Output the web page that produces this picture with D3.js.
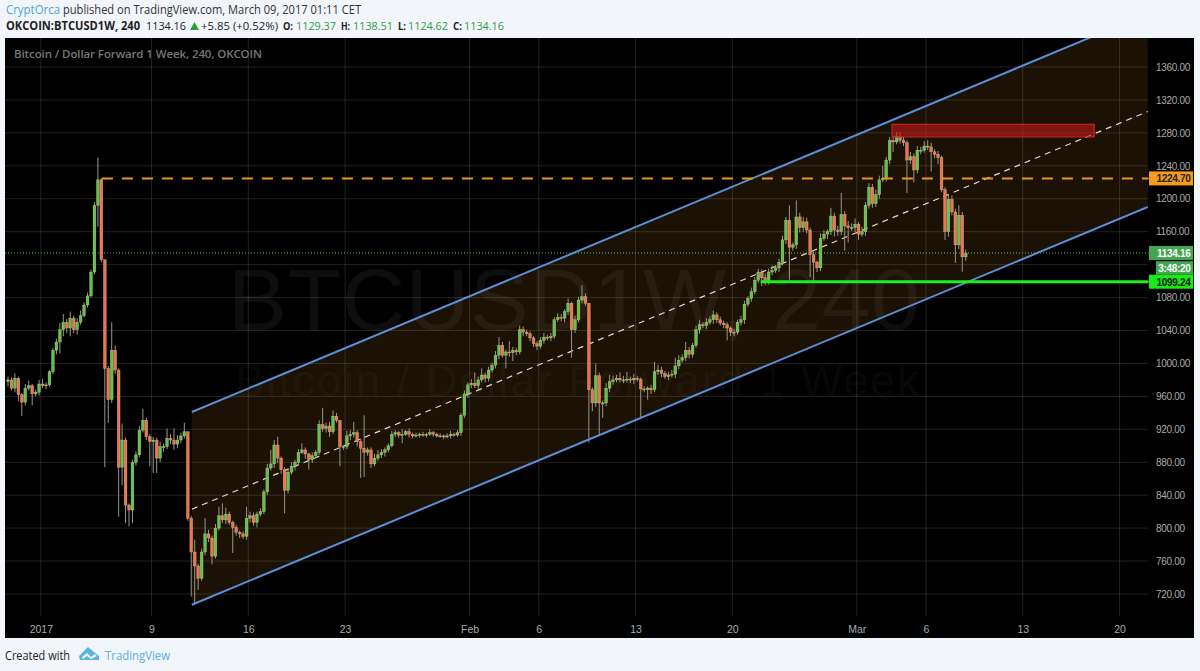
<!DOCTYPE html>
<html><head><meta charset="utf-8">
<script src="https://cdn.jsdelivr.net/npm/d3@7/dist/d3.min.js"></script>
<style>html,body{margin:0;padding:0;background:#f2f5f9;overflow:hidden}svg{display:block}</style>
</head><body><svg id="c" width="1200" height="671"></svg>
<script>
// --- data ---
const firstOpen = 978;
const closes = [
980,970,982,962,953,970,973,963,965,975,
973,974,990,1016,1026,1041,1050,1043,1055,1041,
1050,1058,1071,1082,1111,1192,1223,1126,994,956,
1016,992,874,907,828,822,880,889,919,931,
911,905,907,885,899,899,909,907,902,907,
912,917,812,771,754,739,771,793,788,766,
800,815,810,817,807,801,795,793,790,812,
815,807,817,820,844,873,878,901,885,871,
846,868,875,880,892,895,890,883,888,892,
926,921,924,917,936,931,899,899,912,914,
916,905,897,892,895,878,885,889,892,895,
900,914,916,913,914,917,914,912,913,914,
913,914,916,914,912,912,911,912,914,913,
916,937,963,974,976,973,980,986,982,992,
998,1010,1022,1010,1014,1013,1016,1014,1041,1038,
1036,1031,1024,1021,1028,1032,1031,1033,1053,1056,
1055,1063,1073,1041,1053,1077,1081,1073,968,952,
985,952,952,970,978,980,982,980,980,981,
980,982,981,969,968,970,968,990,992,988,
984,986,987,997,1004,1007,1016,1011,1022,1041,
1047,1046,1050,1053,1059,1053,1049,1047,1043,1038,
1038,1050,1053,1072,1079,1087,1101,1111,1104,1099,
1111,1113,1116,1123,1150,1174,1141,1144,1178,1165,
1172,1162,1132,1123,1116,1152,1157,1160,1179,1162,
1160,1181,1167,1165,1165,1169,1157,1160,1192,1214,
1194,1205,1223,1225,1247,1271,1269,1276,1271,1268,
1247,1251,1235,1259,1259,1264,1263,1257,1254,1250,
1211,1160,1199,1184,1144,1180,1129.37,1134.16];
const wickUp = [
4,3,6,2,2,5,6,2,3,5,
6,3,2,3,4,8,10,4,8,3,
5,6,3,4,3,4,27,2,0,3,
34,6,2,20,3,2,3,4,5,14,
3,3,4,3,6,4,12,5,14,6,
4,11,0,3,15,3,4,19,5,3,
5,11,15,8,3,2,3,2,3,14,
5,4,3,4,3,5,17,6,10,2,
3,4,5,3,4,8,3,2,4,3,
5,20,4,5,7,4,0,2,6,5,
13,3,4,40,3,3,5,6,4,3,
3,4,3,2,6,2,4,2,3,2,
3,2,4,2,2,3,2,3,4,2,
3,3,4,3,5,13,4,8,3,4,
3,5,10,4,3,13,4,3,5,4,
3,3,2,3,4,5,3,4,3,5,
4,3,6,2,5,4,14,4,0,3,
15,4,3,6,8,5,4,7,5,9,
3,5,3,2,3,2,4,12,6,4,
3,4,5,10,6,4,10,4,3,5,
6,3,5,4,5,3,4,3,3,2,
4,3,5,4,3,5,4,4,3,5,
4,6,3,4,5,4,18,3,20,5,
6,5,3,4,2,6,5,3,10,4,
5,26,4,6,5,7,3,6,4,5,
4,6,5,15,4,4,5,5,5,4,
3,6,4,5,4,6,7,5,3,4,
2,3,6,5,4,12,4,4.35];
const wickDown = [
6,3,5,8,17,4,3,14,3,4,
3,4,2,3,5,14,8,6,10,4,
6,3,2,3,2,3,26,3,120,28,
4,5,60,22,22,20,16,4,3,3,
4,30,38,18,5,6,3,5,7,5,
4,3,3,54,47,14,3,4,5,10,
3,3,4,5,3,31,4,5,3,4,
5,4,6,3,3,4,3,5,6,5,
28,4,3,5,3,2,6,12,4,3,
3,4,5,6,3,3,24,4,3,5,
4,6,36,30,4,5,3,3,4,5,
3,2,3,3,10,2,4,3,2,3,
2,3,2,3,2,2,3,2,3,2,
2,4,3,5,4,3,4,3,5,4,
3,4,5,3,16,5,10,4,3,5,
3,4,4,5,3,4,3,4,3,3,
4,5,4,34,4,3,4,3,64,10,
5,38,18,4,5,4,3,3,4,3,
4,5,3,34,3,12,5,3,4,5,
3,4,3,5,4,3,4,5,4,3,
5,3,4,3,5,4,3,4,15,5,
5,3,4,5,3,4,3,3,10,4,
3,4,3,5,4,5,40,4,5,6,
5,4,27,25,5,4,3,6,4,8,
5,4,30,18,4,6,7,3,5,4,
5,4,5,3,4,5,12,3,4,4,
40,5,15,4,5,3,4,24,5,8,
3,10,6,4,22,5,18,4.75];
const firstBar = Date.UTC(2016,11,29,15);
const barMs = 6*3600*1000;
const priceTicks = [720,760,800,840,880,920,960,1000,1040,1080,1160,1200,1240,1280,1320,1360];
const gridPrices = [720,760,800,840,880,920,960,1000,1040,1080,1120,1160,1200,1240,1280,1320,1360];
const timeTicks = [[2017,0,1,"2017"],[2017,0,9,"9"],[2017,0,16,"16"],[2017,0,23,"23"],[2017,1,1,"Feb"],[2017,1,6,"6"],[2017,1,13,"13"],[2017,1,20,"20"],[2017,2,1,"Mar"],[2017,2,6,"6"],[2017,2,13,"13"],[2017,2,20,"20"]];
const channelStart = Date.UTC(2017,0,11,22);
const channelEnd = Date.UTC(2017,2,22,1);
const channelUpper = [941,1425];
const channelMiddle = [823,1306];
const channelLower = [707,1190];
const resistance = 1224.70, support = 1099.24, lastPrice = 1134.16;
const resistanceStart = Date.UTC(2017,0,5,10), supportStart = Date.UTC(2017,1,22,1);
const boxTime = [Date.UTC(2017,2,3,13),Date.UTC(2017,2,18,4)], boxPrice = [1290.5,1275];

const sans = "'Open Sans',sans-serif", ax = "'Liberation Sans',Arial,sans-serif";
const L=5,R=1148,T=38,B=616;
const x = d3.scaleUtc().domain([Date.UTC(2017,0,1),Date.UTC(2017,2,20)]).range([40.85,40.85+13.83*78]);
const y = d3.scaleLinear().domain([720,1360]).range([594,67]);
const svg = d3.select("#c");
svg.append("defs").append("clipPath").attr("id","pl").append("rect").attr("x",L).attr("y",T).attr("width",R-L).attr("height",B-T);
svg.append("rect").attr("x",L).attr("y",T).attr("width",1194-L).attr("height",638-T).attr("fill","#000");

// grid + time axis
const tDates = timeTicks.map(t=>new Date(Date.UTC(t[0],t[1],t[2])));
const gx = svg.append("g").attr("transform",`translate(0,${B})`).call(d3.axisBottom(x).tickValues(tDates).tickSize(0).tickPadding(10).tickFormat((d,i)=>timeTicks[i][3]));
gx.select(".domain").remove();
gx.selectAll("text").attr("fill","#aaa").attr("font-family",ax).attr("font-size",10.5);
const plot = svg.append("g").attr("clip-path","url(#pl)");
plot.append("text").attr("x",228).attr("y",330).attr("font-family",ax).attr("font-size",88).attr("fill","#fff").attr("fill-opacity",.055).attr("textLength",692).text("BTCUSD1W, 240");
plot.append("text").attr("x",235).attr("y",396).attr("font-family",ax).attr("font-size",44).attr("fill","#fff").attr("fill-opacity",.055).attr("textLength",684).text("Bitcoin / Dollar Forward 1 Week");

// channel fill
const cx0=x(channelStart), cx1=x(channelEnd);
plot.append("path").attr("fill","#c07a1a").attr("fill-opacity",.14)
 .attr("d",d3.line()([[cx0,y(channelUpper[0])],[cx1,y(channelUpper[1])],[cx1,y(channelLower[1])],[cx0,y(channelLower[0])]])+"Z");
const grid = plot.append("g");
grid.selectAll("line.h").data(gridPrices).join("line").attr("class","h").attr("x1",L).attr("x2",R).attr("y1",d=>y(d)).attr("y2",d=>y(d)).attr("stroke","#fff").attr("stroke-opacity",.13);
grid.selectAll("line.v").data(tDates).join("line").attr("class","v").attr("y1",T).attr("y2",B).attr("x1",d=>x(d)).attr("x2",d=>x(d)).attr("stroke","#fff").attr("stroke-opacity",.13);

// middle dashed
plot.append("line").attr("x1",cx0).attr("y1",y(channelMiddle[0])).attr("x2",cx1).attr("y2",y(channelMiddle[1])).attr("stroke","#ead9b8").attr("stroke-width",1.2).attr("stroke-dasharray","6 5");

// last price dotted
plot.append("line").attr("x1",L).attr("x2",R).attr("y1",y(lastPrice)).attr("y2",y(lastPrice)).attr("stroke","#4fc45f").attr("stroke-dasharray","1 2");

// candles
const bars = closes.map((c,i)=>{const o=i?closes[i-1]:firstOpen;return{t:firstBar+i*barMs,o,c,h:Math.max(o,c)+wickUp[i],l:Math.min(o,c)-wickDown[i]}});
const g = plot.append("g");
g.selectAll("line").data(bars).join("line").attr("x1",d=>x(d.t)).attr("x2",d=>x(d.t)).attr("y1",d=>y(d.h)).attr("y2",d=>y(d.l)).attr("stroke","#99968c").attr("stroke-width",1);
g.selectAll("rect").data(bars).join("rect").attr("x",d=>x(d.t)-1.4).attr("width",2.8)
 .attr("y",d=>y(Math.max(d.o,d.c))).attr("height",d=>Math.max(1,Math.abs(y(d.o)-y(d.c))))
 .attr("fill",d=>d.c>=d.o?"#62c24f":"#ea7350").attr("stroke","#f0d8a0").attr("stroke-width",.4).attr("stroke-opacity",.7);

// channel borders
[channelUpper,channelLower].forEach(a=>plot.append("line").attr("x1",cx0).attr("y1",y(a[0])).attr("x2",cx1).attr("y2",y(a[1])).attr("stroke","#5b8fd6").attr("stroke-width",2));

// red box
plot.append("rect").attr("x",x(boxTime[0])).attr("y",y(boxPrice[0])).attr("width",x(boxTime[1])-x(boxTime[0])).attr("height",y(boxPrice[1])-y(boxPrice[0])).attr("fill","#c01818").attr("fill-opacity",.62).attr("stroke","#d02828").attr("stroke-width",1);

// levels
plot.append("line").attr("x1",x(resistanceStart)).attr("x2",R).attr("y1",y(resistance)).attr("y2",y(resistance)).attr("stroke","#e8981e").attr("stroke-width",2).attr("stroke-dasharray","11 9");
plot.append("line").attr("x1",x(supportStart)).attr("x2",R).attr("y1",y(support)).attr("y2",y(support)).attr("stroke","#1cf01c").attr("stroke-width",3);

// price axis
const gy = svg.append("g").attr("transform",`translate(${R},0)`).call(d3.axisRight(y).tickValues(priceTicks).tickSize(0).tickPadding(8).tickFormat(d=>d.toFixed(2)));
gy.select(".domain").remove();
gy.selectAll("text").attr("fill","#aaa").attr("font-family",ax).attr("font-size",10).attr("letter-spacing",-0.3);

function tag(py,txt,bg,fg,x0,h){
 svg.append("rect").attr("x",x0).attr("y",py-h/2).attr("width",1193-x0).attr("height",h).attr("fill",bg);
 svg.append("text").attr("x",1190.5).attr("y",py+3.8).attr("text-anchor","end").attr("font-family",ax).attr("font-size",10).attr("font-weight","bold").attr("letter-spacing",-0.3).attr("fill",fg).text(txt);}
tag(y(resistance),resistance.toFixed(2),"#f59a1c","#222",1149,14);
tag(y(lastPrice),lastPrice.toFixed(2),"#45a650","#fff",1149,14);
tag(y(lastPrice)+15,"3:48:20","#45a650","#fff",1156,13.5);
tag(y(support),support.toFixed(2),"#14ee14","#111",1149,14);
[resistance,lastPrice,support].forEach((p,i)=>svg.append("line").attr("x1",R).attr("x2",1152).attr("y1",y(p)).attr("y2",y(p)).attr("stroke",["#e8981e","#45a650","#1cf01c"][i]));

// pane title
svg.append("text").attr("x",14).attr("y",58).attr("font-family",sans).attr("font-size",11.5).attr("font-weight",600).attr("fill","#777").attr("textLength",248).text("Bitcoin / Dollar Forward 1 Week, 240, OKCOIN");

// header
function hdr(px,py,txt,len,fill,w,fs){svg.append("text").attr("x",px).attr("y",py).attr("font-family",sans).attr("font-size",fs||12.5).attr("font-weight",w||400).attr("fill",fill).attr("textLength",len).attr("lengthAdjust","spacingAndGlyphs").text(txt);}
hdr(6,14,"CryptOrca",54,"#4aa8d8");
hdr(63,14,"published on TradingView.com, March 09, 2017 01:11 CET",298,"#333");
hdr(6,30,"OKCOIN:BTCUSD1W, 240",134,"#222",700);
hdr(146,30,"1134.16",40,"#222",400,10.8);
svg.append("path").attr("fill","#2e9e3e").attr("d","M194.5 22 L199 30 L190 30 Z");
hdr(201,30,"+5.85 (+0.52%)",77,"#222",400,10.8);
[["O:",283,10,"1129.37",296],["H:",341,9,"1138.51",353],["L:",398,8,"1124.62",408],["C:",453,9,"1134.16",464]].forEach(a=>{
 hdr(a[1],30,a[0],a[2],"#222",700,10.8);
 hdr(a[4],30,a[3],40,"#2e9e3e",400,10.8);
});

// footer
svg.append("text").attr("x",5).attr("y",660).attr("font-family",sans).attr("font-size",12).attr("fill","#222").attr("textLength",65).attr("lengthAdjust","spacingAndGlyphs").text("Created with");
svg.append("path").attr("fill","#5ab4e4").attr("d","M79 656 L88 647 L94 652 L99 656 L99 660 L80 660 Z");
svg.append("path").attr("fill","#f2f5f9").attr("d","M82 657 L87 653 L91 657 L95 654 L97 656 L91 659 L87 656 L83 659 Z");
svg.append("text").attr("x",105).attr("y",660).attr("font-family",sans).attr("font-size",12).attr("fill","#5ab0e0").attr("textLength",65).attr("lengthAdjust","spacingAndGlyphs").text("TradingView");
</script></body></html>
